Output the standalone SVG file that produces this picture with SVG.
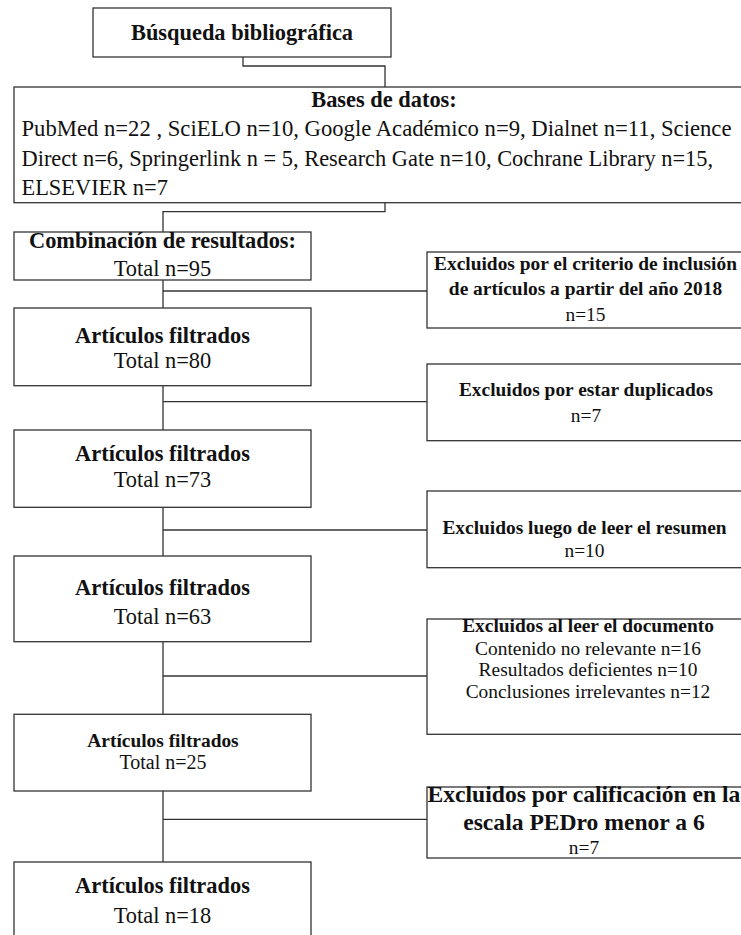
<svg xmlns="http://www.w3.org/2000/svg" width="741" height="935" viewBox="0 0 741 935">
<style>
rect{fill:#fff;stroke:#333;stroke-width:1.3}
.c{fill:none;stroke:#333;stroke-width:1.3}
text{font-family:"Liberation Serif","Times New Roman",serif;fill:#111}
.b{font-weight:bold}
.m{text-anchor:middle}
.f22{font-size:22.4px}
.f19{font-size:19.4px}
</style>
<rect width="741" height="935" style="fill:#fff;stroke:none"/>
<g id="connectors">
<polyline class="c" points="243,57 243,66 385,66 385,87"/>
<polyline class="c" points="385,202.7 385,211.7 163,211.7 163,232"/>
<line class="c" x1="163" y1="280" x2="163" y2="308"/>
<line class="c" x1="163" y1="291" x2="427" y2="291"/>
<line class="c" x1="163" y1="385.7" x2="163" y2="430"/>
<line class="c" x1="163" y1="401.7" x2="427" y2="401.7"/>
<line class="c" x1="163" y1="507.3" x2="163" y2="556"/>
<line class="c" x1="163" y1="530" x2="427" y2="530"/>
<line class="c" x1="163" y1="641.7" x2="163" y2="714.3"/>
<line class="c" x1="163" y1="676" x2="427" y2="676"/>
<line class="c" x1="163" y1="791" x2="163" y2="862"/>
<line class="c" x1="163" y1="819.3" x2="427" y2="819.3"/>
</g>
<g id="n1">
<rect x="93" y="8" width="298" height="49"/>
<text class="b m f22" x="242" y="39.5">Búsqueda bibliográfica</text>
</g>
<g id="n2">
<rect x="14" y="87" width="740" height="115.7"/>
<text class="b m f22" x="384" y="107">Bases de datos:</text>
<text class="f22" x="21.5" y="136" textLength="710" lengthAdjust="spacingAndGlyphs">PubMed n=22 , SciELO n=10, Google Académico n=9, Dialnet n=11, Science</text>
<text class="f22" x="21.5" y="165.5">Direct n=6, Springerlink n = 5, Research Gate n=10, Cochrane Library n=15,</text>
<text class="f22" x="21.5" y="195">ELSEVIER n=7</text>
</g>
<g id="n3">
<rect x="14" y="232" width="297" height="48"/>
<text class="b m f22" x="162.5" y="248">Combinación de resultados:</text>
<text class="m f22" x="162.5" y="276">Total n=95</text>
</g>
<g id="x1">
<rect x="427" y="252" width="320" height="76"/>
<text class="b m f19" x="585.5" y="270">Excluidos por el criterio de inclusión</text>
<text class="b m f19" x="585.5" y="295">de artículos a partir del año 2018</text>
<text class="m f19" x="585.5" y="321">n=15</text>
</g>
<g id="n4">
<rect x="14" y="308" width="297" height="77.7"/>
<text class="b m f22" x="162.5" y="342.5">Artículos filtrados</text>
<text class="m f22" x="162.5" y="368">Total n=80</text>
</g>
<g id="x2">
<rect x="427" y="364" width="320" height="76.7"/>
<text class="b m f19" x="586" y="396">Excluidos por estar duplicados</text>
<text class="m f19" x="586" y="422">n=7</text>
</g>
<g id="n5">
<rect x="14" y="430" width="297" height="77.3"/>
<text class="b m f22" x="162.5" y="460.7">Artículos filtrados</text>
<text class="m f22" x="162.5" y="486.7">Total n=73</text>
</g>
<g id="x3">
<rect x="427" y="491" width="320" height="76.7"/>
<text class="b m f19" x="584.5" y="533.5">Excluidos luego de leer el resumen</text>
<text class="m f19" x="584.5" y="557">n=10</text>
</g>
<g id="n6">
<rect x="14" y="556" width="297" height="85.7"/>
<text class="b m f22" x="162.5" y="595">Artículos filtrados</text>
<text class="m f22" x="162.5" y="624">Total n=63</text>
</g>
<g id="x4">
<rect x="427" y="619" width="320" height="115.3"/>
<text class="b m f19" x="588" y="632">Excluidos al leer el documento</text>
<text class="m f19" x="588" y="654.5">Contenido no relevante n=16</text>
<text class="m f19" x="588" y="676">Resultados deficientes n=10</text>
<text class="m f19" x="588" y="698">Conclusiones irrelevantes n=12</text>
</g>
<g id="n7">
<rect x="14" y="714.3" width="297" height="76.7"/>
<text class="b m f19" x="163" y="747">Artículos filtrados</text>
<text class="m" style="font-size:20px" x="163" y="769">Total n=25</text>
</g>
<g id="x5">
<rect x="427" y="787" width="320" height="71"/>
<text class="b m" style="font-size:23.6px" x="584" y="802">Excluidos por calificación en la</text>
<text class="b m" style="font-size:23.6px" x="584" y="830">escala PEDro menor a 6</text>
<text class="m f19" x="584" y="854">n=7</text>
</g>
<g id="n8">
<rect x="14" y="862" width="297" height="80"/>
<text class="b m f22" x="162.5" y="893">Artículos filtrados</text>
<text class="m f22" x="162.5" y="923">Total n=18</text>
</g>
</svg>
